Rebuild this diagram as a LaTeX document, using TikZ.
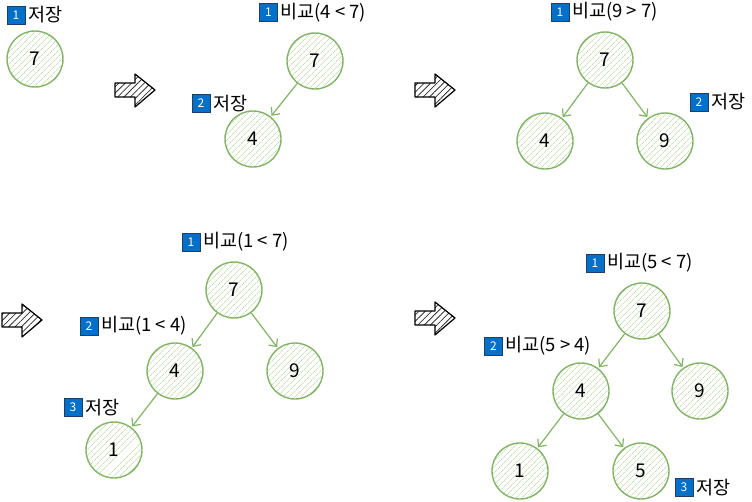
\documentclass[tikz,border=0pt]{standalone}
\usepackage{fontspec}
\setmainfont{Noto Sans CJK KR}
\usetikzlibrary{arrows.meta,patterns.meta}
\definecolor{gstroke}{HTML}{82B366}
\definecolor{ghatch}{HTML}{A9D18E}
\definecolor{bfill}{HTML}{0070C8}
\definecolor{bdraw}{HTML}{1F3F66}
\tikzset{
 nd/.style={circle, draw=gstroke, line width=1.4pt, minimum size=56pt, inner sep=0pt,
   font=\fontsize{19}{19}\selectfont,
   pattern={Lines[angle=45,distance=4pt,line width=0.6pt]}, pattern color=ghatch},
 badge/.style={rectangle, draw=bdraw, fill=bfill, text=white, line width=0.8pt,
   minimum width=18pt, minimum height=18pt, inner sep=0pt, font=\fontsize{12}{12}\selectfont},
 lbl/.style={anchor=west, inner sep=1.5pt, font=\fontsize{18.5}{19}\selectfont},
 edge/.style={draw=gstroke, line width=1.2pt, -{Straight Barb[length=6pt,width=11pt]}, shorten >=1pt},
 blockarrow/.style={draw=black, line width=1.2pt, line join=round,
   pattern={Lines[angle=45,distance=4.5pt,line width=0.8pt]}, pattern color=black!80}
}
\newcommand{\blockarr}[2]{%
  \path[blockarrow] (#1,#2-7) -- (#1+20,#2-7) -- (#1+20,#2-16) -- (#1+40,#2) --
    (#1+20,#2+17) -- (#1+20,#2+7) -- (#1,#2+7) -- cycle;}
\begin{document}
\begin{tikzpicture}[x=1pt,y=-1pt]
\useasboundingbox (0,0) rectangle (752,501);

% panel 1
\node[nd] (pa7) at (35,59) {7};
\node[badge] (pab1) at (16,15) {1};
\node[lbl] (pat1) at ([xshift=1pt]pab1.east) {저장};

% arrows
\blockarr{115}{90}
\blockarr{415}{90}
\blockarr{2}{320}
\blockarr{415}{318}

% panel 2
\node[nd] (pb7) at (315,61) {7};
\node[nd] (pb4) at (253,139) {4};
\draw[edge] (pb7) -- (pb4);
\node[badge] (pbb1) at (268.5,12.5) {1};
\node[lbl] (pbt1) at ([xshift=1pt]pbb1.east) {비교(4 < 7)};
\node[badge] (pbb2) at (201,103.5) {2};
\node[lbl] (pbt2) at ([xshift=1pt]pbb2.east) {저장};

% panel 3
\node[nd] (pc7) at (605,60) {7};
\node[nd] (pc4) at (545,141) {4};
\node[nd] (pc9) at (665,141) {9};
\draw[edge] (pc7) -- (pc4);
\draw[edge] (pc7) -- (pc9);
\node[badge] (pcb1) at (560,12) {1};
\node[lbl] (pct1) at ([xshift=1pt]pcb1.east) {비교(9 > 7)};
\node[badge] (pcb2) at (699,102) {2};
\node[lbl] (pct2) at ([xshift=1pt]pcb2.east) {저장};

% panel 4
\node[nd] (pd7) at (234,290) {7};
\node[nd] (pd4) at (175,371) {4};
\node[nd] (pd9) at (295,371) {9};
\node[nd] (pd1) at (114,450) {1};
\draw[edge] (pd7) -- (pd4);
\draw[edge] (pd7) -- (pd9);
\draw[edge] (pd4) -- (pd1);
\node[badge] (pdb1) at (191,242) {1};
\node[lbl] (pdt1) at ([xshift=1pt]pdb1.east) {비교(1 < 7)};
\node[badge] (pdb2) at (89,326) {2};
\node[lbl] (pdt2) at ([xshift=1pt]pdb2.east) {비교(1 < 4)};
\node[badge] (pdb3) at (73,407.5) {3};
\node[lbl] (pdt3) at ([xshift=1pt]pdb3.east) {저장};

% panel 5
\node[nd] (pe7) at (642,311) {7};
\node[nd] (pe4) at (581,391) {4};
\node[nd] (pe9) at (700,391) {9};
\node[nd] (pe1) at (520,471) {1};
\node[nd] (pe5) at (641,471) {5};
\draw[edge] (pe7) -- (pe4);
\draw[edge] (pe7) -- (pe9);
\draw[edge] (pe4) -- (pe1);
\draw[edge] (pe4) -- (pe5);
\node[badge] (peb1) at (595,263) {1};
\node[lbl] (pet1) at ([xshift=1pt]peb1.east) {비교(5 < 7)};
\node[badge] (peb2) at (493.5,346) {2};
\node[lbl] (pet2) at ([xshift=1pt]peb2.east) {비교(5 > 4)};
\node[badge] (peb3) at (684,487.5) {3};
\node[lbl] (pet3) at ([xshift=1pt]peb3.east) {저장};
\end{tikzpicture}
\end{document}
